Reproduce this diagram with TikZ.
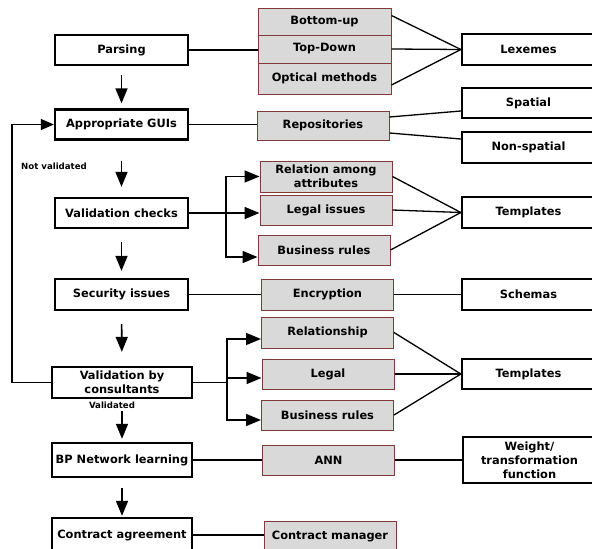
\documentclass[tikz,border=0pt]{standalone}
\usepackage{fontspec}
\setmainfont{DejaVu Sans}
\usetikzlibrary{arrows.meta}
\definecolor{boxred}{RGB}{128,58,58}
\definecolor{boxgray}{RGB}{217,217,217}
\begin{document}
\begin{tikzpicture}[x=1pt,y=-1pt,
  every node/.style={font=\bfseries\fontsize{11.4}{13.8}\selectfont, align=center, inner sep=0pt},
  mainbox/.style={draw=black, line width=2.3pt, fill=white, minimum width=133pt, minimum height=30pt},
  graybox/.style={draw=boxred, line width=1pt, fill=boxgray, minimum width=132pt, minimum height=30pt},
  conn/.style={line width=1.3pt},
  arr/.style={line width=1.6pt, -{Triangle[length=15pt,width=12pt]}},
  lbl/.style={font=\bfseries\fontsize{8.6}{10}\selectfont}
]
\useasboundingbox (0,0) rectangle (592,549);
\clip (0,0) rectangle (592,549);

% left column
\node[mainbox] (parsing) at (121.5,50) {Parsing};
\node[mainbox] (gui) at (121.5,124.5) {Appropriate GUIs};
\node[mainbox] (vc) at (121.5,213) {Validation checks};
\node[mainbox, minimum height=31pt] (sec) at (121.5,294.5) {Security issues};
\node[mainbox, minimum width=140pt, minimum height=31pt] (vbc) at (122,382.5) {Validation by\\consultants};
\node[mainbox, minimum width=140pt, minimum height=34pt] (bp) at (122,460) {BP Network learning};
\node[mainbox, minimum width=140pt, minimum height=34pt] (ca) at (122,535) {Contract agreement};

% middle column
\node[graybox, minimum width=133pt, minimum height=27pt] (bu) at (324.5,21.5) {Bottom-up};
\node[graybox, minimum width=133pt, minimum height=28pt] (td) at (324.5,49) {Top-Down};
\node[graybox, minimum width=133pt, minimum height=31pt] (om) at (324.5,78.5) {Optical methods};
\node[graybox, minimum height=29pt] (rep) at (323,125.5) {Repositories};
\node[graybox, minimum height=31pt] (raa) at (326,176.5) {Relation among\\attributes};
\node[graybox] (li) at (326,210) {Legal issues};
\node[graybox] (bra) at (324,250) {Business rules};
\node[graybox, minimum height=31pt] (enc) at (327.5,294.5) {Encryption};
\node[graybox, minimum height=31pt] (rel) at (327.5,332.5) {Relationship};
\node[graybox] (leg) at (328,374) {Legal};
\node[graybox] (brb) at (327.5,415) {Business rules};
\node[graybox] (ann) at (328.5,460) {ANN};
\node[graybox, minimum height=31pt] (cm) at (330,536.5) {Contract manager};

% right column
\node[mainbox, minimum height=31pt] (lex) at (528.5,49.5) {Lexemes};
\node[mainbox] (spa) at (528.5,103) {Spatial};
\node[mainbox, minimum height=31pt] (nsp) at (528.5,147.5) {Non-spatial};
\node[mainbox, minimum height=31pt] (tema) at (528.5,212.5) {Templates};
\node[mainbox, minimum height=31pt] (sch) at (528.5,294.5) {Schemas};
\node[mainbox] (temb) at (528.5,374) {Templates};
\node[mainbox, minimum height=46pt] (wt) at (529.5,460) {Weight/\\transformation\\function};

% labels
\node[lbl] (nv) at (54,166) {Not validated};
\node[lbl] (vd) at (112,405) {Validated};

% vertical flow arrows
\draw[arr, shorten <=9pt, shorten >=5pt] (parsing) -- (gui);
\draw[arr, shorten <=20pt, shorten >=10pt] (gui) -- (vc);
\draw[arr, shorten <=13pt, shorten >=7pt] (vc) -- (sec);
\draw[arr, shorten <=13pt, shorten >=14pt] (sec) -- (vbc);
\draw[arr, shorten <=12pt, shorten >=3pt] (vbc) -- (bp);
\draw[arr, shorten <=10pt, shorten >=1pt] (bp) -- (ca);

% feedback loop
\coordinate (fb) at (12,382.5);
\draw[line width=1.3pt, -{Triangle[length=13pt,width=11pt]}] (vbc.west) -- (fb) |- (gui.west);

% horizontal connectors left-middle
\draw[conn] (parsing.east) -- (parsing.east -| td.west);
\draw[conn] (gui.east) -- (gui.east -| rep.west);
\draw[conn] (sec.east) -- (enc.west);
\draw[conn] (bp.east) -- (ann.west);
\draw[conn] (ca.east) -- (ca.east -| cm.west);

% branches from validation checks
\coordinate (ja) at (226,213);
\draw[line width=1.6pt] (vc.east) -- (ja);
\draw[arr] (ja) -- (ja -| li.west);
\draw[arr] (ja) |- ([yshift=0pt]raa.west);
\draw[arr] (ja) |- ([yshift=-7pt]bra.west);

% branches from validation by consultants
\coordinate (jb) at (227,382.5);
\draw[line width=1.6pt] (vbc.east) -- (jb);
\draw[arr] (jb) |- ([yshift=-6.5pt]rel.west);
\draw[arr] (jb) |- ([yshift=-4pt]leg.west);
\draw[arr] (jb) |- ([yshift=-5pt]brb.west);

% middle-right connectors
\draw[conn] ([yshift=6pt]bu.east) -- (lex.west);
\draw[conn] (td.east) -- (lex.west);
\draw[conn] ([yshift=-6.5pt]om.east) -- (lex.west);
\draw[conn] ([yshift=8.5pt]rep.east) -- ([yshift=-8pt]spa.west);
\draw[conn] ([yshift=-7.5pt]rep.east) -- ([yshift=8.5pt]nsp.west);
\draw[conn] (raa.east) -- (tema.west);
\draw[conn] (li.east) -- (tema.west);
\draw[conn] (bra.east) -- (tema.west);
\draw[conn] (enc.east) -- (sch.west);
\draw[conn] (rel.east) -- (temb.west);
\draw[conn] (leg.east) -- (temb.west);
\draw[conn] (brb.east) -- (temb.west);
\draw[conn] (ann.east) -- (wt.west);
\end{tikzpicture}
\end{document}
